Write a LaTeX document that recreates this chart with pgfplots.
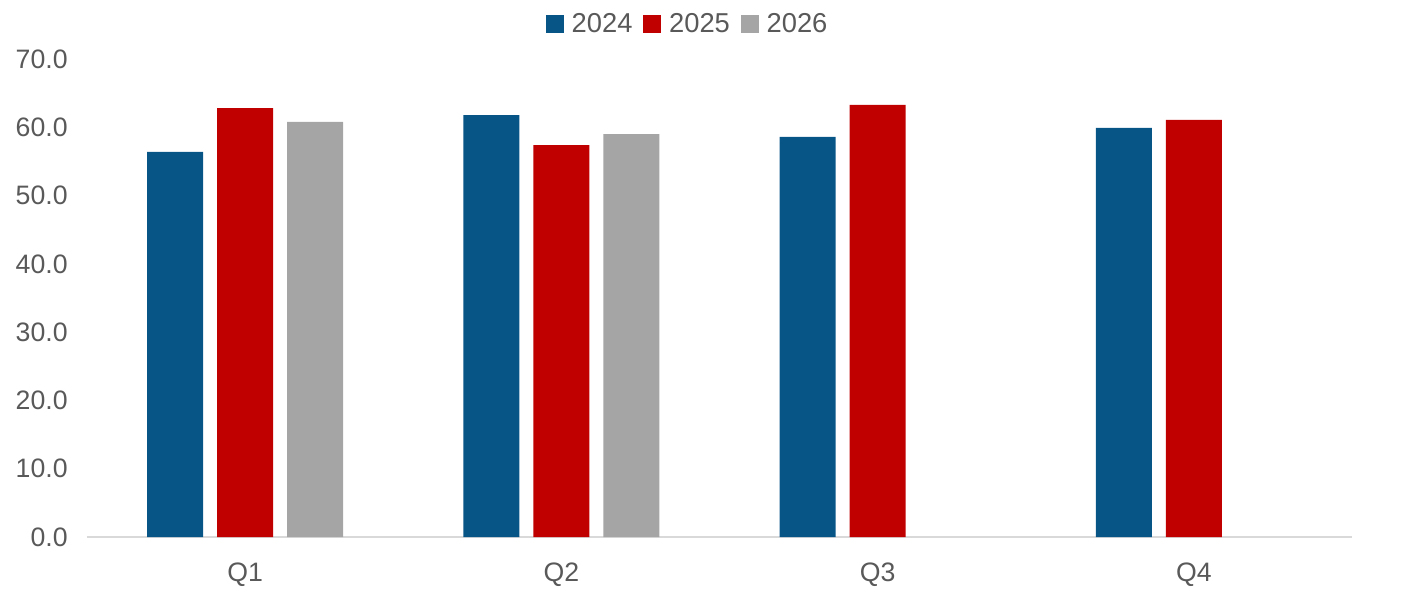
\documentclass[border=0pt]{standalone}
\usepackage{pgfplots}
\pgfplotsset{compat=1.18}
\usepackage{fontspec}
\setmainfont{Liberation Sans}
\definecolor{cA}{RGB}{7,85,135}
\definecolor{cB}{RGB}{192,0,0}
\definecolor{cC}{RGB}{165,165,165}
\definecolor{txt}{RGB}{89,89,89}
\definecolor{axl}{RGB}{217,217,217}
\begin{document}
\begin{tikzpicture}
\begin{axis}[
  at={(0,0)}, anchor=south west,
  scale only axis, width=948.75pt, height=358.5pt,
  ybar=10.5pt, bar width=42pt,
  xmin=-0.5, xmax=3.5, ymin=0, ymax=70,
  xtick={0,1,2,3}, xticklabels={Q1,Q2,Q3,Q4},
  ytick={0,10,...,70},
  axis y line*=left,
  y axis line style={draw=none},
  axis x line*=bottom,
  x axis line style={draw=axl, line width=1.2pt, -},
  major tick length=0pt,
  /pgf/number format/assume math mode=true,
  yticklabel={\pgfmathprintnumber[fixed,fixed zerofill,precision=1]{\tick}},
  ticklabel style={font=\fontsize{20}{23}\selectfont, text=txt},
  yticklabel style={anchor=east, xshift=-11pt},
  xticklabel style={anchor=north, yshift=-16pt},
  legend style={at={(0.475,1.073)}, anchor=center, draw=none, fill=none,
    legend columns=3, font=\fontsize{20.5}{23}\selectfont, text=txt,
    /tikz/every odd column/.append style={column sep=4pt},
    /tikz/every even column/.append style={column sep=6pt}},
  legend image code/.code={\fill[#1] (0pt,-6.75pt) rectangle (13.5pt,6.75pt);},
  clip=false,
]
\addplot[fill=cA, draw=none] coordinates {(0,56.4) (1,61.8) (2,58.6) (3,59.9)};
\addplot[fill=cB, draw=none] coordinates {(0,62.8) (1,57.4) (2,63.3) (3,61.1)};
\addplot[fill=cC, draw=none] coordinates {(0,60.8) (1,59.0)};
\legend{2024,2025,2026}
\end{axis}
\pgfresetboundingbox
\useasboundingbox (-65.25pt,-47.25pt) rectangle (990pt,402.75pt);
\end{tikzpicture}
\end{document}
